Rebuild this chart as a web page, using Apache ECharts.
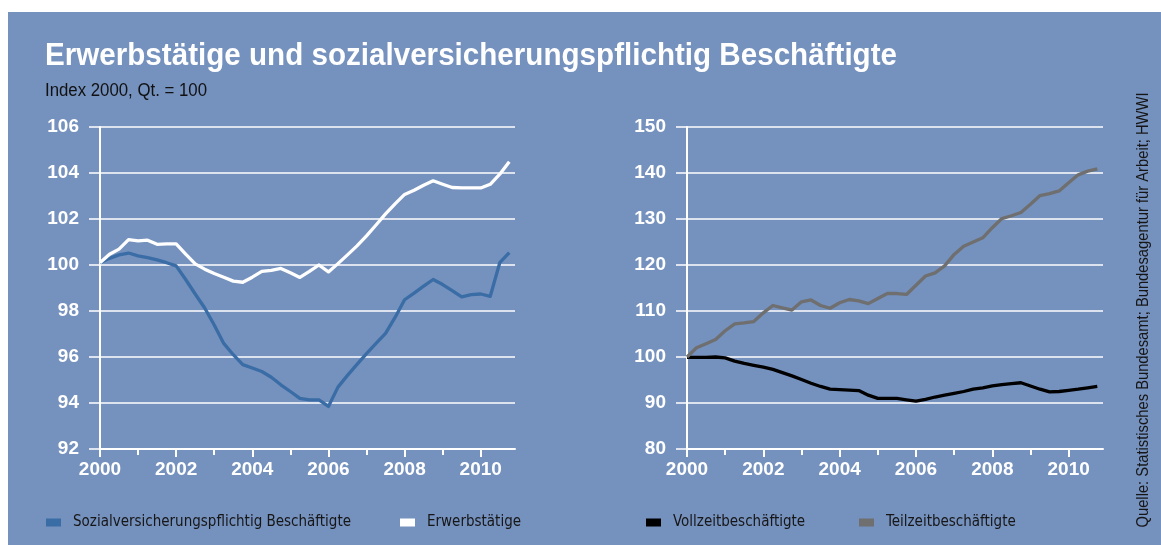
<!DOCTYPE html>
<html>
<head>
<meta charset="utf-8">
<script src="https://cdn.jsdelivr.net/npm/echarts@6/dist/echarts.min.js"></script>
<style>
  body { margin: 0; background: #fff; }
  #bg { position: absolute; left: 8px; top: 12px; width: 1153px; height: 533px; background: #7591be; }
  #main { position: absolute; left: 0; top: 0; width: 1161px; height: 545px; }
</style>
</head>
<body>
<div id="bg"></div>
<div id="main"></div>
<script>
// Quartale 2000 Q1 .. 2010 Q4
var quarters = [
  2000, 2000.25, 2000.5, 2000.75, 2001, 2001.25, 2001.5, 2001.75,
  2002, 2002.25, 2002.5, 2002.75, 2003, 2003.25, 2003.5, 2003.75,
  2004, 2004.25, 2004.5, 2004.75, 2005, 2005.25, 2005.5, 2005.75,
  2006, 2006.25, 2006.5, 2006.75, 2007, 2007.25, 2007.5, 2007.75,
  2008, 2008.25, 2008.5, 2008.75, 2009, 2009.25, 2009.5, 2009.75,
  2010, 2010.25, 2010.5, 2010.75
];

// linkes Diagramm
var sozVers = [
  100.10, 100.29, 100.44, 100.52, 100.40, 100.32, 100.22, 100.10,
  99.96, 99.37, 98.74, 98.13, 97.39, 96.59, 96.10, 95.67,
  95.52, 95.37, 95.12, 94.79, 94.50, 94.20, 94.14, 94.14,
  93.85, 94.69, 95.20, 95.68, 96.15, 96.59, 97.03, 97.72,
  98.49, 98.78, 99.08, 99.37, 99.15, 98.89, 98.61, 98.71,
  98.74, 98.64, 100.10, 100.54
];
var erwerb = [
  100.10, 100.47, 100.69, 101.10, 101.05, 101.08, 100.90, 100.92,
  100.92, 100.47, 100.05, 99.82, 99.63, 99.47, 99.30, 99.25,
  99.47, 99.72, 99.77, 99.85, 99.66, 99.46, 99.72, 100.00,
  99.70, 100.06, 100.44, 100.83, 101.27, 101.74, 102.22, 102.66,
  103.07, 103.25, 103.47, 103.66, 103.51, 103.37, 103.35, 103.35,
  103.35, 103.51, 103.95, 104.49
];

// rechtes Diagramm
var vollzeit = [
  99.9, 99.9, 99.9, 100.0, 99.8, 99.1, 98.6, 98.2,
  97.8, 97.3, 96.6, 95.9, 95.1, 94.3, 93.6, 93.0,
  92.9, 92.8, 92.7, 91.7, 91.0, 91.0, 91.0, 90.7,
  90.4, 90.8, 91.3, 91.7, 92.1, 92.5, 93.0, 93.3,
  93.7, 94.0, 94.2, 94.4, 93.7, 93.0, 92.4, 92.5,
  92.75, 93.0, 93.3, 93.6
];
var teilzeit = [
  100.0, 102.0, 102.9, 103.8, 105.7, 107.2, 107.4, 107.7,
  109.6, 111.2, 110.7, 110.2, 112.0, 112.4, 111.2, 110.6,
  111.8, 112.5, 112.2, 111.6, 112.7, 113.8, 113.8, 113.6,
  115.6, 117.6, 118.3, 119.8, 122.3, 124.1, 125.0, 125.9,
  128.1, 130.1, 130.7, 131.4, 133.2, 135.1, 135.5, 136.1,
  137.9, 139.6, 140.4, 140.9
];

var majorYears = [2000, 2002, 2004, 2006, 2008, 2010];
var minorYears = [2001, 2003, 2005, 2007, 2009];
var leftTicks = { min: 92, max: 106, interval: 2 };
var rightTicks = { min: 80, max: 150, interval: 10 };

var names = ['Sozialversicherungspflichtig Beschäftigte', 'Erwerbstätige', 'Vollzeitbeschäftigte', 'Teilzeitbeschäftigte'];
var colors = ['#3a6da6', '#ffffff', '#000000', '#6f6f6f'];

var titleText = 'Erwerbstätige und sozialversicherungspflichtig Beschäftigte';
var subText = 'Index 2000, Qt. = 100';
var sourceText = 'Quelle: Statistisches Bundesamt; Bundesagentur für Arbeit; HWWI';

var narrow = "'Liberation Sans Narrow', 'DejaVu Sans Condensed', sans-serif";
var sans = "'Liberation Sans', Arial, sans-serif";

// Breite messen, damit der Text schmal wie im Original wird
var ctx = document.createElement('canvas').getContext('2d');
function squeeze(text, font, target) {
  ctx.font = font;
  return target / ctx.measureText(text).width;
}

function pairs(ys) {
  return ys.map(function (v, i) { return [quarters[i], v]; });
}

function xAxes(gridIndex) {
  return [
    {
      type: 'value', gridIndex: gridIndex, min: 2000, max: 2010.9,
      axisLine: { lineStyle: { color: '#fff', width: 2 } },
      axisTick: { customValues: majorYears, length: 8, lineStyle: { color: '#fff', width: 2 } },
      axisLabel: {
        customValues: majorYears, margin: 11, color: '#fff',
        fontFamily: sans, fontSize: 19, fontWeight: 'bold',
        formatter: function (v) { return String(v); }
      },
      splitLine: { show: false }
    },
    {
      type: 'value', gridIndex: gridIndex, min: 2000, max: 2010.9, position: 'bottom',
      axisLine: { show: false },
      axisTick: { customValues: minorYears, length: 6, lineStyle: { color: '#fff', width: 2 } },
      axisLabel: { show: false },
      splitLine: { show: false }
    }
  ];
}

function yAxis(gridIndex, t) {
  return {
    type: 'value', gridIndex: gridIndex, min: t.min, max: t.max, interval: t.interval,
    axisLine: { show: true, lineStyle: { color: '#fff', width: 2 } },
    axisTick: { show: true, length: 11, lineStyle: { color: '#fff', width: 1.5 } },
    axisLabel: {
      margin: 21, color: '#fff', fontFamily: sans, fontSize: 19, fontWeight: 'bold'
    },
    splitLine: { lineStyle: { color: '#fff', width: 1.5 } }
  };
}

function line(i, xIdx, yIdx, ys) {
  return {
    name: names[i], type: 'line', xAxisIndex: xIdx, yAxisIndex: yIdx,
    data: pairs(ys), showSymbol: false, symbol: 'none',
    lineStyle: { color: colors[i], width: 3.3, join: 'round' },
    itemStyle: { color: colors[i] }
  };
}

function legend(i, left) {
  return {
    data: [names[i]], left: left, top: 515, padding: 0, icon: 'rect',
    itemWidth: 15, itemHeight: 8, itemGap: 0,
    textStyle: { fontFamily: narrow, fontSize: 15, color: '#161616', padding: [0, 0, 0, 7] }
  };
}

var titleScale = squeeze(titleText, 'bold 32px ' + sans, 852);
var subScale = squeeze(subText, '18px ' + sans, 162);
var sourceScale = squeeze(sourceText, '17px ' + sans, 435);

var myChart = echarts.init(document.getElementById('main'));

var option = {
  backgroundColor: 'transparent',
  animation: false,
  legend: [legend(0, 46), legend(1, 400), legend(2, 646), legend(3, 859)],
  grid: [
    { left: 100, top: 127, width: 415, height: 322 },
    { left: 687, top: 127, width: 416, height: 322 }
  ],
  xAxis: xAxes(0).concat(xAxes(1)),
  yAxis: [yAxis(0, leftTicks), yAxis(1, rightTicks)],
  series: [
    line(0, 0, 0, sozVers),
    line(1, 0, 0, erwerb),
    line(2, 2, 1, vollzeit),
    line(3, 2, 1, teilzeit)
  ],
  graphic: [
    {
      type: 'text', x: 45, y: 56, scaleX: titleScale,
      style: {
        text: titleText, font: 'bold 32px ' + sans, fill: '#fff',
        textAlign: 'left', textVerticalAlign: 'middle'
      }
    },
    {
      type: 'text', x: 45, y: 91.5, scaleX: subScale,
      style: {
        text: subText, font: '18px ' + sans, fill: '#111',
        textAlign: 'left', textVerticalAlign: 'middle'
      }
    },
    {
      type: 'text', x: 1143, y: 310, rotation: Math.PI / 2, scaleX: sourceScale,
      style: {
        text: sourceText, font: '17px ' + sans, fill: '#161616',
        textAlign: 'center', textVerticalAlign: 'middle'
      }
    }
  ]
};

myChart.setOption(option);
</script>
</body>
</html>
